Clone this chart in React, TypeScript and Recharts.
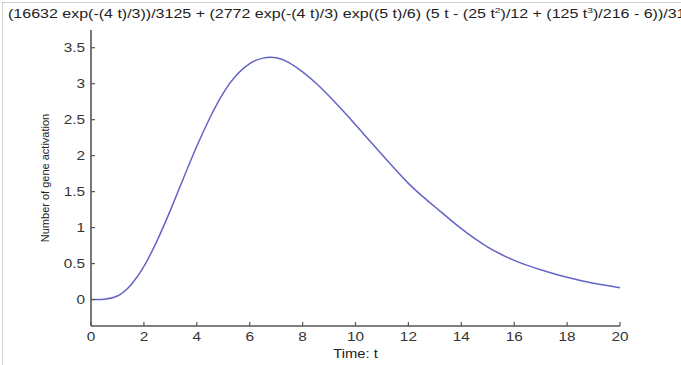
import React from "react";
import { LineChart, Line, XAxis, YAxis, Label } from "recharts";

const times = [0, 0.5, 1, 1.5, 2, 2.5, 3, 3.5, 4, 4.5, 5, 5.5, 6, 6.5, 7, 7.5, 8, 8.5, 9, 9.5, 10, 10.5, 11, 11.5, 12, 12.5, 13, 13.5, 14, 14.5, 15, 15.5, 16, 16.5, 17, 17.5, 18, 18.5, 19, 19.5, 20];
const activation = [0, 0.005, 0.05, 0.2, 0.46, 0.82, 1.24, 1.69, 2.13, 2.53, 2.87, 3.12, 3.28, 3.355, 3.36, 3.29, 3.165, 3.01, 2.83, 2.635, 2.43, 2.22, 2.015, 1.81, 1.615, 1.445, 1.29, 1.135, 0.985, 0.85, 0.73, 0.63, 0.545, 0.475, 0.415, 0.36, 0.31, 0.265, 0.228, 0.195, 0.165];
const xTicks = [0, 2, 4, 6, 8, 10, 12, 14, 16, 18, 20];
const yTicks = [0, 0.5, 1, 1.5, 2, 2.5, 3, 3.5];
const titleParts = ["(16632 exp(-(4 t)/3))/3125 + (2772 exp(-(4 t)/3) exp((5 t)/6) (5 t - (25 t", "2", ")/12 + (125 t", "3", ")/216 - 6))/3125"];
const xLabel = "Time: t";
const yLabel = "Number of gene activation";

const data = times.map((t, i) => ({ t, v: activation[i] }));

const FONT = "'Liberation Sans', Arial, sans-serif";
const STRETCH = 1.28;

const YTick = (props: any) => {
  const { x, y, payload } = props;
  return (
    <text transform={`translate(${x},${y}) scale(${STRETCH},1)`} textAnchor="end" dy="0.355em" fill="#333" fontSize={12} fontFamily={FONT}>
      {String(payload.value)}
    </text>
  );
};

const XTick = (props: any) => {
  const { x, y, payload } = props;
  return (
    <text transform={`translate(${x},${y}) scale(${STRETCH},1)`} textAnchor="middle" dy="0.71em" fill="#333" fontSize={12} fontFamily={FONT}>
      {String(payload.value)}
    </text>
  );
};

const XLabel = (props: any) => {
  const vb = props.viewBox || {};
  const cx = vb.x + vb.width / 2;
  return (
    <text transform={`translate(${cx},358) scale(${STRETCH - 0.05},1)`} textAnchor="middle" fill="#222" fontSize={12} fontFamily={FONT}>
      {xLabel}
    </text>
  );
};

export default function App() {
  return (
    <div style={{ position: "fixed", left: 0, top: 0, width: 681, height: 365, background: "#fff", overflow: "hidden", fontFamily: FONT }}>
      <div style={{ position: "absolute", left: 2, top: 2, right: -5, bottom: -5, borderTop: "1px solid #cfcfcf", borderLeft: "1px solid #cfcfcf" }} />
      <div style={{ position: "absolute", left: 8, top: 6, whiteSpace: "nowrap", fontSize: 12.5, color: "#222", fontFamily: FONT, transform: "scaleX(1.28)", transformOrigin: "0 0" }}>
        {titleParts[0]}<sup style={{ fontSize: 8 }}>{titleParts[1]}</sup>{titleParts[2]}<sup style={{ fontSize: 8 }}>{titleParts[3]}</sup>{titleParts[4]}
      </div>
      <div style={{ position: "absolute", left: 0, top: 0 }}>
        <LineChart width={681} height={365} data={data} margin={{ top: 30, right: 61, bottom: 9, left: 0 }}>
          <XAxis
            dataKey="t"
            type="number"
            domain={[0, 20]}
            ticks={xTicks}
            interval={0}
            height={30}
            tickSize={-4}
            tickMargin={10}
            axisLine={{ stroke: "#555", strokeWidth: 1.6 }}
            tickLine={{ stroke: "#555", strokeWidth: 1.2 }}
            tick={XTick}
          >
            <Label content={XLabel} position="insideBottom" />
          </XAxis>
          <YAxis
            type="number"
            domain={[-0.367, 3.746]}
            ticks={yTicks}
            interval={0}
            allowDataOverflow
            width={91}
            tickSize={-4}
            tickMargin={10}
            axisLine={{ stroke: "#555", strokeWidth: 1.6 }}
            tickLine={{ stroke: "#555", strokeWidth: 1.2 }}
            tick={YTick}
          >
            <Label value={yLabel} angle={-90} position="center" dx={0} style={{ fill: "#222", fontSize: 11, fontFamily: FONT, textAnchor: "middle" }} />
          </YAxis>
          <Line type="natural" dataKey="v" stroke="#6464c8" strokeWidth={1.5} dot={false} isAnimationActive={false} />
        </LineChart>
      </div>
    </div>
  );
}
